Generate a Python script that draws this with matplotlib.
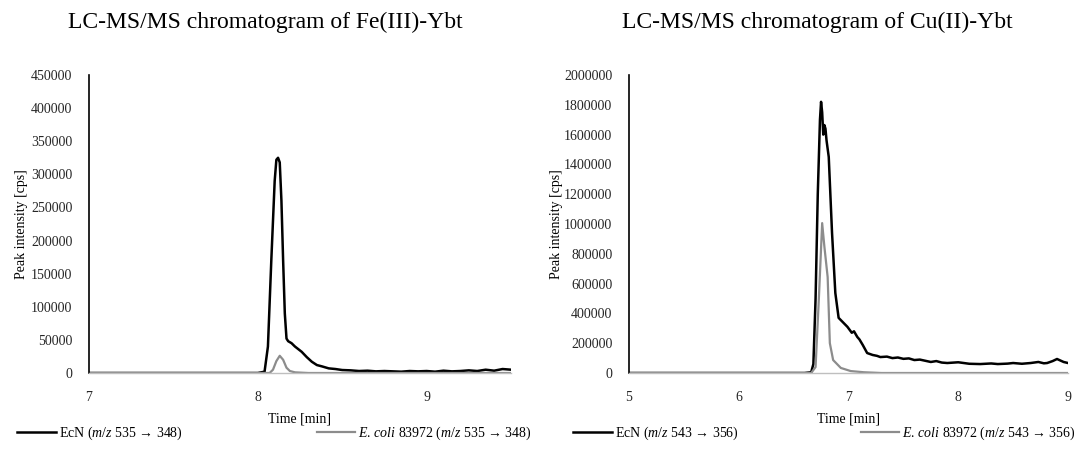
import matplotlib
matplotlib.use("Agg")
import matplotlib.pyplot as plt
from matplotlib.ticker import FuncFormatter

plt.rcParams['font.family'] = ['Liberation Serif', 'DejaVu Serif']
plt.rcParams['mathtext.fontset'] = 'custom'
plt.rcParams['mathtext.rm'] = 'Liberation Serif'
plt.rcParams['mathtext.it'] = 'Liberation Serif:italic'

# Fe(III)-Ybt, EcN trace (m/z 535 -> 348)
fe_ecn_t = [7.0, 7.5, 8.0, 8.04, 8.06, 8.08, 8.10, 8.11, 8.12, 8.13, 8.14, 8.15,
            8.16, 8.17, 8.18, 8.20, 8.22, 8.24, 8.26, 8.29, 8.32, 8.35, 8.38,
            8.42, 8.46, 8.50, 8.55, 8.60, 8.65, 8.70, 8.75, 8.80, 8.85, 8.90,
            8.95, 9.00, 9.05, 9.10, 9.15, 9.20, 9.25, 9.30, 9.35, 9.40, 9.45, 9.50]
fe_ecn_y = [0, 0, 0, 2000, 40000, 170000, 290000, 322000, 325000, 318000, 260000, 170000,
            90000, 52000, 48000, 45000, 40000, 36000, 32000, 24000, 17000, 12000, 10000,
            7000, 6000, 4500, 4000, 3000, 3500, 2500, 3000, 2500, 2000, 3000,
            2500, 3000, 2000, 3500, 2500, 3000, 4000, 3000, 5000, 3500, 6000, 5000]

# Fe(III)-Ybt, E. coli 83972 trace
fe_uti_t = [7.0, 8.0, 8.07, 8.09, 8.11, 8.13, 8.15, 8.17, 8.19, 8.22, 8.30, 9.50]
fe_uti_y = [0, 0, 0, 5000, 18000, 26000, 20000, 8000, 3000, 1000, 0, 0]

# Cu(II)-Ybt, EcN trace (m/z 543 -> 356)
cu_ecn_t = [5.0, 6.0, 6.60, 6.66, 6.68, 6.70, 6.72, 6.74, 6.75, 6.76, 6.77, 6.78,
            6.79, 6.80, 6.82, 6.85, 6.88, 6.91, 6.95, 6.99, 7.03, 7.05, 7.08, 7.10,
            7.13, 7.17, 7.22, 7.26, 7.29, 7.35, 7.40, 7.45, 7.50, 7.55, 7.60, 7.65,
            7.70, 7.75, 7.80, 7.85, 7.90, 8.00, 8.05, 8.10, 8.20, 8.30, 8.36, 8.45,
            8.50, 8.58, 8.66, 8.73, 8.78, 8.81, 8.86, 8.90, 8.96, 9.00]
cu_ecn_y = [0, 0, 0, 5000, 60000, 500000, 1200000, 1700000, 1820000, 1750000, 1600000, 1664000,
            1640000, 1560000, 1450000, 940000, 537000, 370000, 340000, 310000, 270000, 280000, 242000, 225000,
            188000, 134000, 121000, 115000, 107000, 110000, 100000, 104000, 95000, 98000, 87000, 90000,
            82000, 74000, 80000, 70000, 67000, 72000, 67000, 62000, 60000, 64000, 60000, 63000,
            67000, 62000, 67000, 74000, 65000, 67000, 80000, 94000, 74000, 67000]

# Cu(II)-Ybt, E. coli 83972 trace
cu_uti_t = [5.0, 6.0, 6.66, 6.70, 6.73, 6.76, 6.78, 6.81, 6.83, 6.86, 6.93, 7.02, 7.14, 7.30, 9.0]
cu_uti_y = [0, 0, 0, 40000, 500000, 1006000, 850000, 644000, 200000, 87000, 34000, 13000, 5000, 0, 0]

titles = ["LC-MS/MS chromatogram of Fe(III)-Ybt", "LC-MS/MS chromatogram of Cu(II)-Ybt"]
ecn_labels = [r"EcN ($\it{m/z}$ 535 → 348)", r"EcN ($\it{m/z}$ 543 → 356)"]
uti_labels = [r"$\it{E.}\,\it{coli}$ 83972 ($\it{m/z}$ 535 → 348)",
              r"$\it{E.}\,\it{coli}$ 83972 ($\it{m/z}$ 543 → 356)"]
x_ticks = [[7, 8, 9], [5, 6, 7, 8, 9]]
x_limits = [(7, 9.5), (5, 9)]
y_ticks = [list(range(0, 450001, 50000)), list(range(0, 2000001, 200000))]

traces = [(fe_ecn_t, fe_ecn_y, fe_uti_t, fe_uti_y),
          (cu_ecn_t, cu_ecn_y, cu_uti_t, cu_uti_y)]

W, H = 1076, 457
fig = plt.figure(figsize=(W / 100, H / 100), dpi=100)

# axes boxes in pixels: left, right, top, bottom
boxes = [(89, 511, 75, 373), (629, 1068, 75, 373)]
legend_spans = [(17, 532), (573, 1076)]
title_x = [265, 817]
ylabel_pad = [2, 1]

for i in range(2):
    l, r, t, b = boxes[i]
    ax = fig.add_axes([l / W, 1 - b / H, (r - l) / W, (b - t) / H])
    et, ey, ut, uy = traces[i]
    ax.plot(et, ey, color='black', lw=1.8, label=ecn_labels[i])
    ax.plot(ut, uy, color='#8c8c8c', lw=1.6, label=uti_labels[i])

    ax.set_xlim(*x_limits[i])
    ax.set_ylim(0, y_ticks[i][-1])
    ax.set_xticks(x_ticks[i])
    ax.set_yticks(y_ticks[i])
    ax.yaxis.set_major_formatter(FuncFormatter(lambda v, p: f"{v:.0f}"))
    ax.tick_params(length=0, labelsize=10, colors='#262626')
    ax.tick_params(axis='y', pad=12)
    ax.tick_params(axis='x', pad=13)
    for s in ['top', 'right']:
        ax.spines[s].set_visible(False)
    ax.spines['left'].set_color('black')
    ax.spines['left'].set_linewidth(1.2)
    ax.spines['bottom'].set_color('#bfbfbf')
    ax.spines['bottom'].set_linewidth(1.0)

    ax.set_xlabel("Time [min]", fontsize=10, labelpad=6)
    ax.set_ylabel("Peak intensity [cps]", fontsize=10, labelpad=ylabel_pad[i])

    fig.text(title_x[i] / W, 1 - 22 / H, titles[i], ha='center', va='center', fontsize=17)

    x0, x1 = legend_spans[i]
    fig.legend(handles=ax.get_lines(), loc='center', ncol=2, mode='expand',
               bbox_to_anchor=(x0 / W, 1 - 434 / H, (x1 - x0) / W, 0.001),
               frameon=False, fontsize=10, handlelength=2.8, handletextpad=0.2,
               borderaxespad=0, borderpad=0)

fig.savefig("out.png", dpi=100)
